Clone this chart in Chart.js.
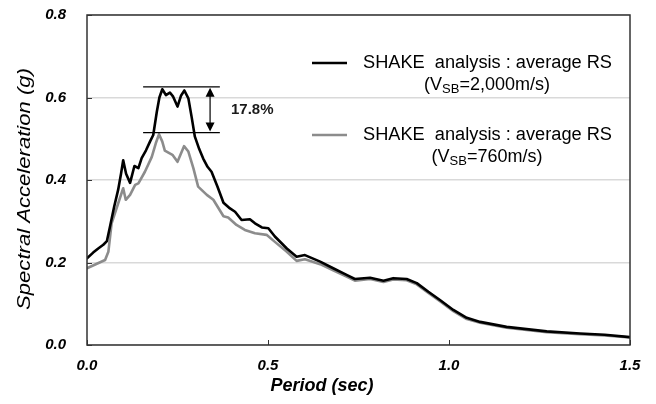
<!DOCTYPE html>
<html>
<head>
<meta charset="utf-8">
<script src="https://cdn.jsdelivr.net/npm/chart.js@4/dist/chart.umd.min.js"></script>
<style>
    html, body { margin: 0; padding: 0; background: #fff; }
    #wrap { width: 656px; height: 404px; }
</style>
</head>
<body>
<div id="wrap"><canvas id="chart" width="656" height="404"></canvas></div>
<script>
// Period (sec) / spectral acceleration (g), V_SB = 2,000 m/s
var periodHard = [0.00, 0.017, 0.031, 0.045, 0.055, 0.063, 0.075, 0.086, 0.094, 0.100,
    0.108, 0.119, 0.131, 0.142, 0.151, 0.163, 0.174, 0.183, 0.193, 0.200,
    0.208, 0.218, 0.229, 0.238, 0.250, 0.260, 0.269, 0.280, 0.289, 0.298,
    0.310, 0.321, 0.333, 0.344, 0.360, 0.377, 0.395, 0.409, 0.427, 0.450,
    0.464, 0.483, 0.501, 0.519, 0.552, 0.579, 0.602, 0.644, 0.680, 0.717,
    0.740, 0.782, 0.819, 0.846, 0.883, 0.911, 0.943, 0.975, 1.012, 1.049,
    1.086, 1.159, 1.270, 1.362, 1.430, 1.500];
var saHard = [0.210, 0.224, 0.234, 0.243, 0.252, 0.285, 0.335, 0.376, 0.415, 0.448,
    0.415, 0.393, 0.434, 0.429, 0.453, 0.472, 0.493, 0.509, 0.566, 0.600,
    0.620, 0.606, 0.612, 0.602, 0.578, 0.605, 0.617, 0.598, 0.553, 0.505,
    0.475, 0.452, 0.432, 0.420, 0.385, 0.345, 0.331, 0.323, 0.303, 0.305,
    0.295, 0.285, 0.283, 0.263, 0.234, 0.214, 0.218, 0.202, 0.186, 0.170,
    0.160, 0.163, 0.156, 0.162, 0.160, 0.150, 0.129, 0.109, 0.085, 0.066,
    0.056, 0.044, 0.033, 0.028, 0.025, 0.019];

// V_SB = 760 m/s
var periodSoft = [0.00, 0.050, 0.059, 0.068, 0.086, 0.100, 0.107, 0.119, 0.133, 0.142,
    0.160, 0.179, 0.190, 0.199, 0.208, 0.215, 0.236, 0.250, 0.268, 0.280,
    0.294, 0.307, 0.331, 0.349, 0.377, 0.390, 0.413, 0.436, 0.464, 0.496,
    0.519, 0.552, 0.579, 0.602, 0.644, 0.680, 0.717, 0.740, 0.782, 0.819,
    0.846, 0.883, 0.911, 0.943, 0.975, 1.012, 1.049, 1.086, 1.159, 1.270,
    1.362, 1.430, 1.500];
var saSoft = [0.186, 0.206, 0.226, 0.295, 0.343, 0.380, 0.352, 0.364, 0.388, 0.392,
    0.420, 0.456, 0.489, 0.511, 0.493, 0.471, 0.461, 0.444, 0.482, 0.469,
    0.428, 0.384, 0.364, 0.352, 0.312, 0.309, 0.291, 0.279, 0.271, 0.267,
    0.250, 0.226, 0.204, 0.208, 0.196, 0.181, 0.166, 0.156, 0.160, 0.153,
    0.159, 0.157, 0.147, 0.126, 0.106, 0.082, 0.063, 0.054, 0.042, 0.031,
    0.026, 0.023, 0.018];

var xTicks = [0, 0.5, 1.0, 1.5];
var yTicks = [0, 0.2, 0.4, 0.6, 0.8];

// Peak difference annotation
var peakTop = 0.626;
var peakBottom = 0.515;
var peakSpan = [0.155, 0.367];
var peakArrowX = 0.340;
var peakLabel = '17.8%';

var legendItems = [
    { color: '#000000', line1: 'SHAKE  analysis : average RS', sub: 'SB', value: '=2,000m/s)' },
    { color: '#8c8c8c', line1: 'SHAKE  analysis : average RS', sub: 'SB', value: '=760m/s)' }
];

function toPoints(xs, ys) {
    var pts = [];
    for (var i = 0; i < xs.length; i++) {
        pts.push({ x: xs[i], y: ys[i] });
    }
    return pts;
}

var tickFont = { family: 'Arial, "Liberation Sans"', size: 15, weight: 'bold', style: 'italic' };

/**
 * Draws the plot frame, inner tick marks, axis titles, legend and annotation
 */
var decorPlugin = {
    id: 'decor',
    afterDatasetsDraw: function(chart) {
        var ctx = chart.ctx;
        var area = chart.chartArea;
        var xs = chart.scales.x;
        var ys = chart.scales.y;

        ctx.save();

        // frame
        ctx.strokeStyle = '#333';
        ctx.lineWidth = 1.5;
        ctx.strokeRect(area.left, area.top, area.right - area.left, area.bottom - area.top);

        // inner tick marks
        ctx.beginPath();
        xTicks.forEach(function(v) {
            var px = Math.round(xs.getPixelForValue(v)) + 0.5;
            ctx.moveTo(px, area.bottom);
            ctx.lineTo(px, area.bottom - 5);
        });
        yTicks.forEach(function(v) {
            var py = Math.round(ys.getPixelForValue(v)) + 0.5;
            ctx.moveTo(area.left, py);
            ctx.lineTo(area.left + 5, py);
        });
        ctx.lineWidth = 1;
        ctx.stroke();

        // peak annotation
        var x1 = xs.getPixelForValue(peakSpan[0]);
        var x2 = xs.getPixelForValue(peakSpan[1]);
        var yTop = ys.getPixelForValue(peakTop);
        var yBot = ys.getPixelForValue(peakBottom);
        var ax = xs.getPixelForValue(peakArrowX);
        ctx.strokeStyle = '#000';
        ctx.fillStyle = '#000';
        ctx.lineWidth = 1.2;
        ctx.beginPath();
        ctx.moveTo(x1, yTop); ctx.lineTo(x2, yTop);
        ctx.moveTo(x1, yBot); ctx.lineTo(x2, yBot);
        ctx.moveTo(ax, yTop + 6); ctx.lineTo(ax, yBot - 6);
        ctx.stroke();
        ctx.beginPath();
        ctx.moveTo(ax, yTop + 1); ctx.lineTo(ax - 4.5, yTop + 10); ctx.lineTo(ax + 4.5, yTop + 10);
        ctx.closePath();
        ctx.moveTo(ax, yBot - 1); ctx.lineTo(ax - 4.5, yBot - 10); ctx.lineTo(ax + 4.5, yBot - 10);
        ctx.closePath();
        ctx.fill();

        ctx.font = 'bold 15px Arial, "Liberation Sans"';
        ctx.textBaseline = 'middle';
        ctx.textAlign = 'left';
        ctx.fillStyle = '#1a1a1a';
        ctx.fillText(peakLabel, 231, 110);

        // legend
        var rows = [63, 135];
        legendItems.forEach(function(item, i) {
            var y = rows[i];
            ctx.strokeStyle = item.color;
            ctx.lineWidth = 2.5;
            ctx.beginPath();
            ctx.moveTo(312, y);
            ctx.lineTo(347, y);
            ctx.stroke();

            ctx.fillStyle = '#000';
            ctx.font = '18px Arial, "Liberation Sans"';
            ctx.textAlign = 'left';
            var w1 = ctx.measureText(item.line1).width;
            ctx.save();
            ctx.translate(363, y);
            ctx.scale(249 / w1, 1);
            ctx.fillText(item.line1, 0, 0);
            ctx.restore();

            // second line: (V_SB=...)
            var cx = 487;
            var y2 = y + 22;
            var wa = ctx.measureText('(V').width;
            var wc = ctx.measureText(item.value).width;
            ctx.font = '13px Arial, "Liberation Sans"';
            var wb = ctx.measureText(item.sub).width;
            var startX = cx - (wa + wb + wc) / 2;
            ctx.font = '18px Arial, "Liberation Sans"';
            ctx.fillText('(V', startX, y2);
            ctx.font = '13px Arial, "Liberation Sans"';
            ctx.fillText(item.sub, startX + wa, y2 + 4);
            ctx.font = '18px Arial, "Liberation Sans"';
            ctx.fillText(item.value, startX + wa + wb, y2);
        });

        // axis titles
        ctx.fillStyle = '#000';
        ctx.font = 'bold italic 18px Arial, "Liberation Sans"';
        ctx.textAlign = 'center';
        ctx.fillText('Period (sec)', 322, 386);

        ctx.font = 'italic 18px Arial, "Liberation Sans"';
        var yTitle = 'Spectral Acceleration (g)';
        var wt = ctx.measureText(yTitle).width;
        ctx.save();
        ctx.translate(25, 189);
        ctx.rotate(-Math.PI / 2);
        ctx.scale(242 / wt, 1);
        ctx.fillText(yTitle, 0, 0);
        ctx.restore();

        ctx.restore();
    }
};

var chart = new Chart(document.getElementById('chart'), {
    type: 'line',
    data: {
        datasets: [{
            label: 'SHAKE analysis : average RS (VSB=2,000m/s)',
            data: toPoints(periodHard, saHard),
            borderColor: '#000000',
            borderWidth: 2.6,
            borderJoinStyle: 'round',
            borderCapStyle: 'round',
            pointRadius: 0,
            tension: 0,
            fill: false
        }, {
            label: 'SHAKE analysis : average RS (VSB=760m/s)',
            data: toPoints(periodSoft, saSoft),
            borderColor: '#8c8c8c',
            borderWidth: 2.6,
            borderJoinStyle: 'round',
            borderCapStyle: 'round',
            pointRadius: 0,
            tension: 0,
            fill: false
        }]
    },
    options: {
        responsive: false,
        animation: false,
        layout: {
            padding: { left: 0, right: 26, top: 15, bottom: 0 }
        },
        plugins: {
            legend: { display: false },
            tooltip: { enabled: false }
        },
        scales: {
            x: {
                type: 'linear',
                min: 0,
                max: 1.5,
                afterBuildTicks: function(scale) {
                    scale.ticks = xTicks.map(function(v) { return { value: v }; });
                },
                afterFit: function(scale) {
                    scale.height = 59;
                },
                ticks: {
                    font: tickFont,
                    color: '#000',
                    padding: 4,
                    maxRotation: 0,
                    callback: function(v) { return Number(v).toFixed(1); }
                },
                grid: { display: false },
                border: { display: false }
            },
            y: {
                min: 0,
                max: 0.8,
                afterBuildTicks: function(scale) {
                    scale.ticks = yTicks.map(function(v) { return { value: v }; });
                },
                afterFit: function(scale) {
                    scale.width = 87;
                    scale.paddingTop = 0;
                    scale.paddingBottom = 0;
                },
                ticks: {
                    font: tickFont,
                    color: '#000',
                    padding: 21,
                    callback: function(v) { return Number(v).toFixed(1); }
                },
                grid: {
                    color: '#d9d9d9',
                    lineWidth: 1.5,
                    drawTicks: false
                },
                border: { display: false }
            }
        }
    },
    plugins: [decorPlugin]
});
</script>
</body>
</html>
